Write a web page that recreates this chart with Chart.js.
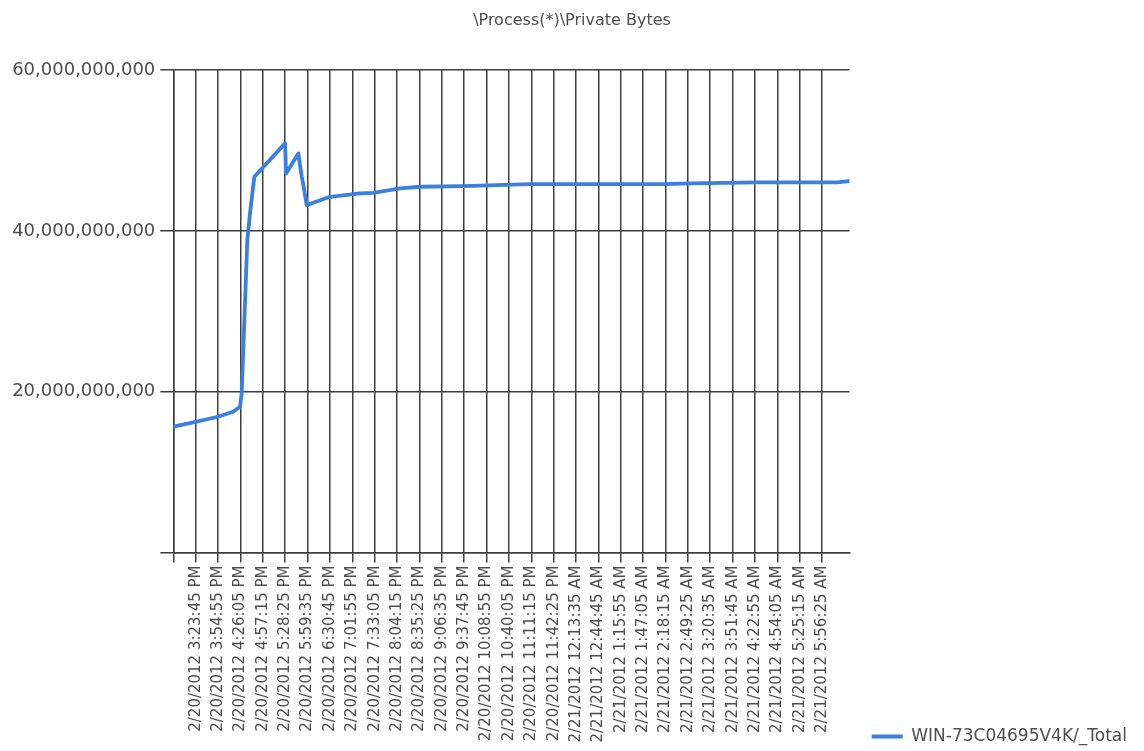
<!DOCTYPE html>
<html>
<head>
<meta charset="utf-8">
<script src="https://cdn.jsdelivr.net/npm/chart.js@4/dist/chart.umd.min.js"></script>
<style>
html, body { margin: 0; padding: 0; background: #ffffff; }
#c { display: block; }
</style>
</head>
<body>
<canvas id="c" width="1144" height="751"></canvas>
<script>
// ---- chart data ----
const chartTitle = '\\Process(*)\\Private Bytes';
const seriesName = 'WIN-73C04695V4K/_Total';

// x-axis tick labels (one every 31:10, first one 31:10 after the axis start at 2/20/2012 2:52:35 PM)
const tickLabels = [
  '2/20/2012 3:23:45 PM', '2/20/2012 3:54:55 PM', '2/20/2012 4:26:05 PM', '2/20/2012 4:57:15 PM',
  '2/20/2012 5:28:25 PM', '2/20/2012 5:59:35 PM', '2/20/2012 6:30:45 PM', '2/20/2012 7:01:55 PM',
  '2/20/2012 7:33:05 PM', '2/20/2012 8:04:15 PM', '2/20/2012 8:35:25 PM', '2/20/2012 9:06:35 PM',
  '2/20/2012 9:37:45 PM', '2/20/2012 10:08:55 PM', '2/20/2012 10:40:05 PM', '2/20/2012 11:11:15 PM',
  '2/20/2012 11:42:25 PM', '2/21/2012 12:13:35 AM', '2/21/2012 12:44:45 AM', '2/21/2012 1:15:55 AM',
  '2/21/2012 1:47:05 AM', '2/21/2012 2:18:15 AM', '2/21/2012 2:49:25 AM', '2/21/2012 3:20:35 AM',
  '2/21/2012 3:51:45 AM', '2/21/2012 4:22:55 AM', '2/21/2012 4:54:05 AM', '2/21/2012 5:25:15 AM',
  '2/21/2012 5:56:25 AM'
];
const tickStepMinutes = 31 + 10 / 60;
const axisEndMinutes = 942;

// samples: minutes since 2/20/2012 2:52:35 PM, and private bytes
const sampleMinutes = [
  0, 32.6, 62.3, 83.2, 93, 95.3, 103.1, 106.9, 112.9, 155.7, 157.1, 174.2, 179, 181.2, 185.9,
  218.3, 260.2, 278.3, 315.9, 343.8, 403.8, 497.1, 682.5, 720.2, 813.5, 925, 941.7
];
const privateBytes = [
  15.65e9, 16.27e9, 16.89e9, 17.51e9, 18.13e9, 19.84e9, 38.87e9, 42.23e9, 46.74e9, 50.90e9, 47.16e9,
  49.65e9, 46.74e9, 45.71e9, 43.22e9, 44.25e9, 44.68e9, 44.75e9, 45.30e9, 45.50e9, 45.59e9, 45.83e9,
  45.83e9, 45.92e9, 46.05e9, 46.05e9, 46.21e9
];
const yTickValues = [0, 20e9, 40e9, 60e9];

// ---- styles ----
const lineColor = '#3b7fe0';
const gridColor = '#3e3e3e';
const textColor = '#4d4d4d';
const fontFamily = 'DejaVu Sans';

const points = sampleMinutes.map((m, i) => ({ x: m, y: privateBytes[i] }));

new Chart(document.getElementById('c').getContext('2d'), {
  type: 'line',
  data: {
    datasets: [{
      label: seriesName,
      data: points,
      borderColor: lineColor,
      backgroundColor: lineColor,
      borderWidth: 3.8,
      pointRadius: 0,
      tension: 0,
      fill: false,
      borderCapStyle: 'round',
      borderJoinStyle: 'round'
    }]
  },
  options: {
    responsive: false,
    animation: false,
    devicePixelRatio: 1,
    layout: { padding: { left: 7, right: 7, top: 0, bottom: 0 } },
    plugins: {
      title: {
        display: true,
        text: chartTitle,
        color: textColor,
        font: { family: fontFamily, size: 16, weight: 'normal' },
        padding: { top: 11, bottom: 40 }
      },
      legend: {
        display: true,
        position: 'right',
        align: 'end',
        maxWidth: 400,
        labels: {
          usePointStyle: true,
          pointStyle: 'line',
          pointStyleWidth: 31,
          color: textColor,
          font: { family: fontFamily, size: 17 },
          padding: 6
        }
      },
      tooltip: { enabled: false }
    },
    scales: {
      x: {
        type: 'linear',
        min: 0,
        max: axisEndMinutes,
        afterBuildTicks: (s) => {
          s.ticks = [{ value: 0 }].concat(tickLabels.map((_, i) => ({ value: (i + 1) * tickStepMinutes })));
        },
        ticks: {
          autoSkip: false,
          minRotation: 90,
          maxRotation: 90,
          padding: 3,
          color: textColor,
          font: { family: fontFamily, size: 15 },
          callback: (v, i) => (i === 0 ? '' : tickLabels[i - 1])
        },
        grid: { color: gridColor, lineWidth: 1.5, tickLength: 10, drawTicks: true },
        border: { color: gridColor, width: 1.5 },
        afterFit: (s) => { s.height = 198.5; }
      },
      y: {
        type: 'linear',
        position: 'left',
        min: 0,
        max: 60e9,
        afterBuildTicks: (s) => { s.ticks = yTickValues.map(v => ({ value: v })); },
        ticks: {
          padding: 5,
          color: textColor,
          font: { family: fontFamily, size: 18 },
          callback: (v) => (v === 0 ? '' : Number(v).toLocaleString('en-US'))
        },
        grid: { color: gridColor, lineWidth: 1.5, tickLength: 13, drawTicks: true },
        border: { color: gridColor, width: 1.5 },
        afterFit: (s) => { s.width = 166.3; }
      },
      rightSpace: {
        type: 'linear',
        position: 'right',
        display: true,
        grid: { display: false },
        ticks: { display: false },
        border: { display: false },
        afterFit: (s) => {
          const lw = (s.chart.legend && s.chart.legend.width) || 0;
          s.width = Math.max(0, 1144 - 849.5 - 7 - lw);
        }
      }
    }
  }
});
</script>
</body>
</html>
